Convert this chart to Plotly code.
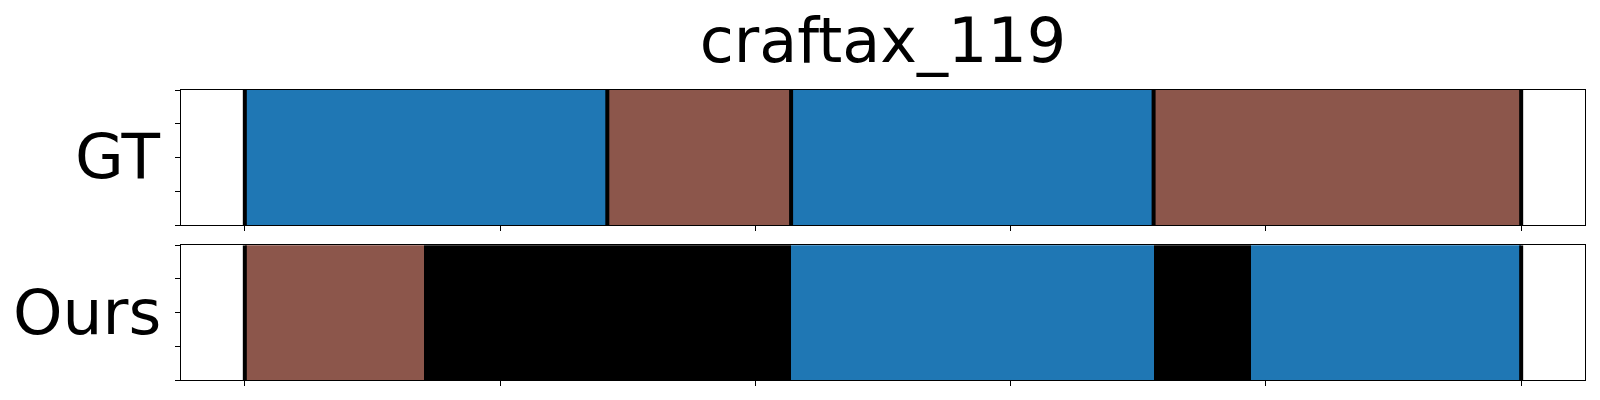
import plotly.graph_objects as go
from plotly.subplots import make_subplots

title_text = "craftax_119"
row_labels = ["GT", "Ours"]

gt_starts = [0, 71, 107, 178]
gt_ends = [71, 107, 178, 250]
gt_colors = ["#1f77b4", "#8c564b", "#1f77b4", "#8c564b"]
gt_bounds = [0, 71, 107, 178, 250]

ours_starts = [0, 35, 107, 178, 197]
ours_ends = [35, 107, 178, 197, 250]
ours_colors = ["#8c564b", "#000000", "#1f77b4", "#000000", "#1f77b4"]
ours_bounds = [0, 250]

x_ticks = [0, 50, 100, 150, 200, 250]
y_ticks = [0, 0.25, 0.5, 0.75, 1.0]
x_range = [-12.5, 262.5]

W, H = 1600, 400

fig = make_subplots(rows=2, cols=1, vertical_spacing=0.07)

def add_row(row, starts, ends, colors, bounds):
    lengths = [e - s for s, e in zip(starts, ends)]
    fig.add_trace(go.Bar(orientation="h", y=[0.5] * len(starts), x=lengths, base=starts,
                         width=1, marker=dict(color=colors, line=dict(width=0)),
                         showlegend=False, hoverinfo="skip"), row=row, col=1)
    xs, ys = [], []
    for b in bounds:
        xs += [b, b, None]
        ys += [0, 1, None]
    fig.add_trace(go.Scatter(x=xs, y=ys, mode="lines", line=dict(color="black", width=4),
                             showlegend=False, hoverinfo="skip"), row=row, col=1)

add_row(1, gt_starts, gt_ends, gt_colors, gt_bounds)
add_row(2, ours_starts, ours_ends, ours_colors, ours_bounds)

axis_common = dict(showline=True, linecolor="black", linewidth=1.1, mirror=True,
                   ticks="outside", ticklen=5, tickwidth=1, tickcolor="black",
                   showticklabels=False, showgrid=False, zeroline=False)
for r in (1, 2):
    fig.update_xaxes(range=x_range, tickvals=x_ticks, row=r, col=1, **axis_common)
    fig.update_yaxes(range=[0, 1], tickvals=y_ticks, row=r, col=1, **axis_common)

top_dom = [0.5345, 1.0]
bot_dom = [0.0, 0.4645]
fig.update_layout(yaxis=dict(domain=top_dom), yaxis2=dict(domain=bot_dom))

label_x = (162.5 - 181) / 1404

fig.update_layout(
    width=W, height=H,
    margin=dict(l=181, r=15, t=90, b=20),
    paper_bgcolor="white", plot_bgcolor="white",
    barmode="overlay", bargap=0,
    font=dict(family="DejaVu Sans", color="black"),
    title=dict(text=title_text, x=0.5, xref="paper", xanchor="center",
               y=1 - 40 / H, yref="container", yanchor="middle",
               font=dict(size=62, family="DejaVu Sans", color="black")),
    annotations=[
        dict(text=row_labels[0], xref="paper", yref="paper", x=label_x, y=sum(top_dom) / 2 + 0.005,
             xanchor="right", yanchor="middle", showarrow=False,
             font=dict(size=63, family="DejaVu Sans", color="black")),
        dict(text=row_labels[1], xref="paper", yref="paper", x=label_x, y=sum(bot_dom) / 2,
             xanchor="right", yanchor="middle", showarrow=False,
             font=dict(size=63, family="DejaVu Sans", color="black")),
    ],
)

fig.write_html("out.html", config={"displayModeBar": False, "staticPlot": True},
               post_script="document.body.style.margin='0';document.body.style.overflow='hidden';")
